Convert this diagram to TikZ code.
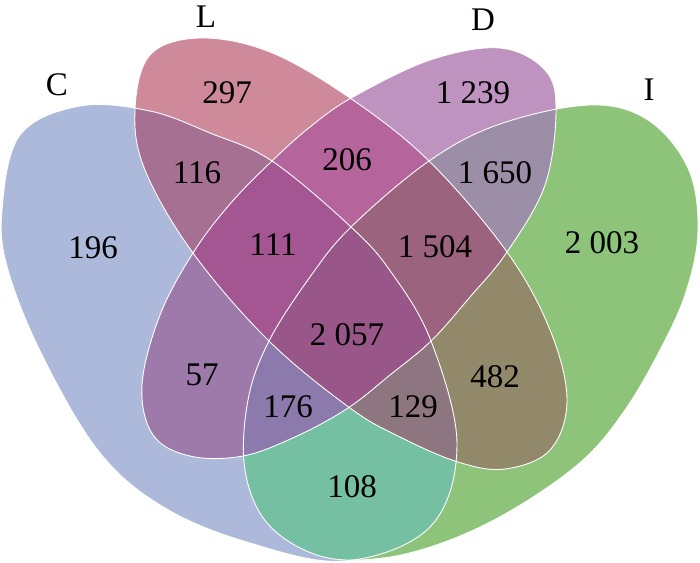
\documentclass[tikz,border=0pt]{standalone}
\usepackage{fontspec}
\setmainfont{Liberation Serif}

\definecolor{cC}{RGB}{173,185,219}
\definecolor{cL}{RGB}{206,138,155}
\definecolor{cD}{RGB}{191,147,192}
\definecolor{cI}{RGB}{141,196,122}
\definecolor{cCL}{RGB}{166,112,147}
\definecolor{cLD}{RGB}{181,100,156}
\definecolor{cDI}{RGB}{155,142,166}
\definecolor{cCD}{RGB}{157,122,170}
\definecolor{cLI}{RGB}{145,137,106}
\definecolor{cCI}{RGB}{117,191,163}
\definecolor{cCLD}{RGB}{163,86,146}
\definecolor{cLDI}{RGB}{155,99,126}
\definecolor{cCDI}{RGB}{139,122,171}
\definecolor{cCLI}{RGB}{142,118,128}
\definecolor{cCLDI}{RGB}{152,86,137}

% outlines of the four sets (pixel coordinates)
\def\shapeC{plot[smooth cycle, tension=0.6] coordinates {(2,210) (20,135) (80,106) (150,111) (210,133) (272,161) (351,227) (391,272) (431,341) (457,445) (430,527) (345,561) (250,543) (165,508) (100,453) (43,357) (8,270)}}
\def\shapeI{plot[smooth cycle, tension=0.6] coordinates {(590,105) (648,120) (688,168) (698,230) (686,292) (660,350) (625,410) (583,460) (517,507) (450,540) (383,558) (320,556) (268,524) (245,470) (248,400) (269,341) (310,277) (351,227) (429,161) (500,124)}}
\def\shapeL{plot[smooth cycle, tension=0.6] coordinates {(135,110) (150,55) (200,38) (270,52) (350,98) (429,161) (507,252) (550,330) (567,400) (550,450) (505,469) (458,462) (400,437) (350,408) (269,341) (193,253) (145,170)}}
\def\shapeD{plot[smooth cycle, tension=0.6] coordinates {(353,97) (430,60) (500,48) (545,70) (556,110) (545,185) (507,252) (470,297) (431,341) (390,375) (348,408) (297,436) (243,456) (190,456) (153,435) (142,385) (160,315) (193,253) (230,204) (272,161) (310,127)}}

\newcommand\vennfill[2]{\begin{scope}#2\fill[#1] (0,0) rectangle (700,562);\end{scope}}

\begin{document}
\begin{tikzpicture}[
    x=1pt, y=-1pt,
    num/.style={font=\fontsize{33}{33}\selectfont, inner sep=0pt},
    setname/.style={font=\fontsize{33}{33}\selectfont, inner sep=0pt},
    outline/.style={draw=white, line width=0.9pt}
]
\useasboundingbox (0,0) rectangle (700,562);
% single sets
\fill[cC] \shapeC;
\fill[cI] \shapeI;
\fill[cL] \shapeL;
\fill[cD] \shapeD;
% pairs
\vennfill{cCL}{\clip \shapeC; \clip \shapeL;}
\vennfill{cLD}{\clip \shapeL; \clip \shapeD;}
\vennfill{cDI}{\clip \shapeD; \clip \shapeI;}
\vennfill{cCD}{\clip \shapeC; \clip \shapeD;}
\vennfill{cLI}{\clip \shapeL; \clip \shapeI;}
\vennfill{cCI}{\clip \shapeC; \clip \shapeI;}
% triples
\vennfill{cCLD}{\clip \shapeC; \clip \shapeL; \clip \shapeD;}
\vennfill{cLDI}{\clip \shapeL; \clip \shapeD; \clip \shapeI;}
\vennfill{cCDI}{\clip \shapeC; \clip \shapeD; \clip \shapeI;}
\vennfill{cCLI}{\clip \shapeC; \clip \shapeL; \clip \shapeI;}
% all four
\vennfill{cCLDI}{\clip \shapeC; \clip \shapeL; \clip \shapeD; \clip \shapeI;}
% white borders
\path[outline] \shapeC;
\path[outline] \shapeI;
\path[outline] \shapeL;
\path[outline] \shapeD;

\node[setname] (setC) at (57,85) {C};
\node[setname] (setL) at (206,17) {L};
\node[setname] (setD) at (483,20) {D};
\node[setname] (setI) at (649,90) {I};

\node[num] (n297) at (227,93) {297};
\node[num] (n1239) at (473,93) {1 239};
\node[num] (n116) at (197,173) {116};
\node[num] (n206) at (347,160) {206};
\node[num] (n1650) at (495,173) {1 650};
\node[num] (n196) at (93,248) {196};
\node[num] (n111) at (273,245) {111};
\node[num] (n1504) at (435,247) {1 504};
\node[num] (n2003) at (602,243) {2 003};
\node[num] (n2057) at (347,335) {2 057};
\node[num] (n57) at (202,375) {57};
\node[num] (n482) at (495,377) {482};
\node[num] (n176) at (288,407) {176};
\node[num] (n129) at (413,407) {129};
\node[num] (n108) at (352,487) {108};
\end{tikzpicture}
\end{document}
